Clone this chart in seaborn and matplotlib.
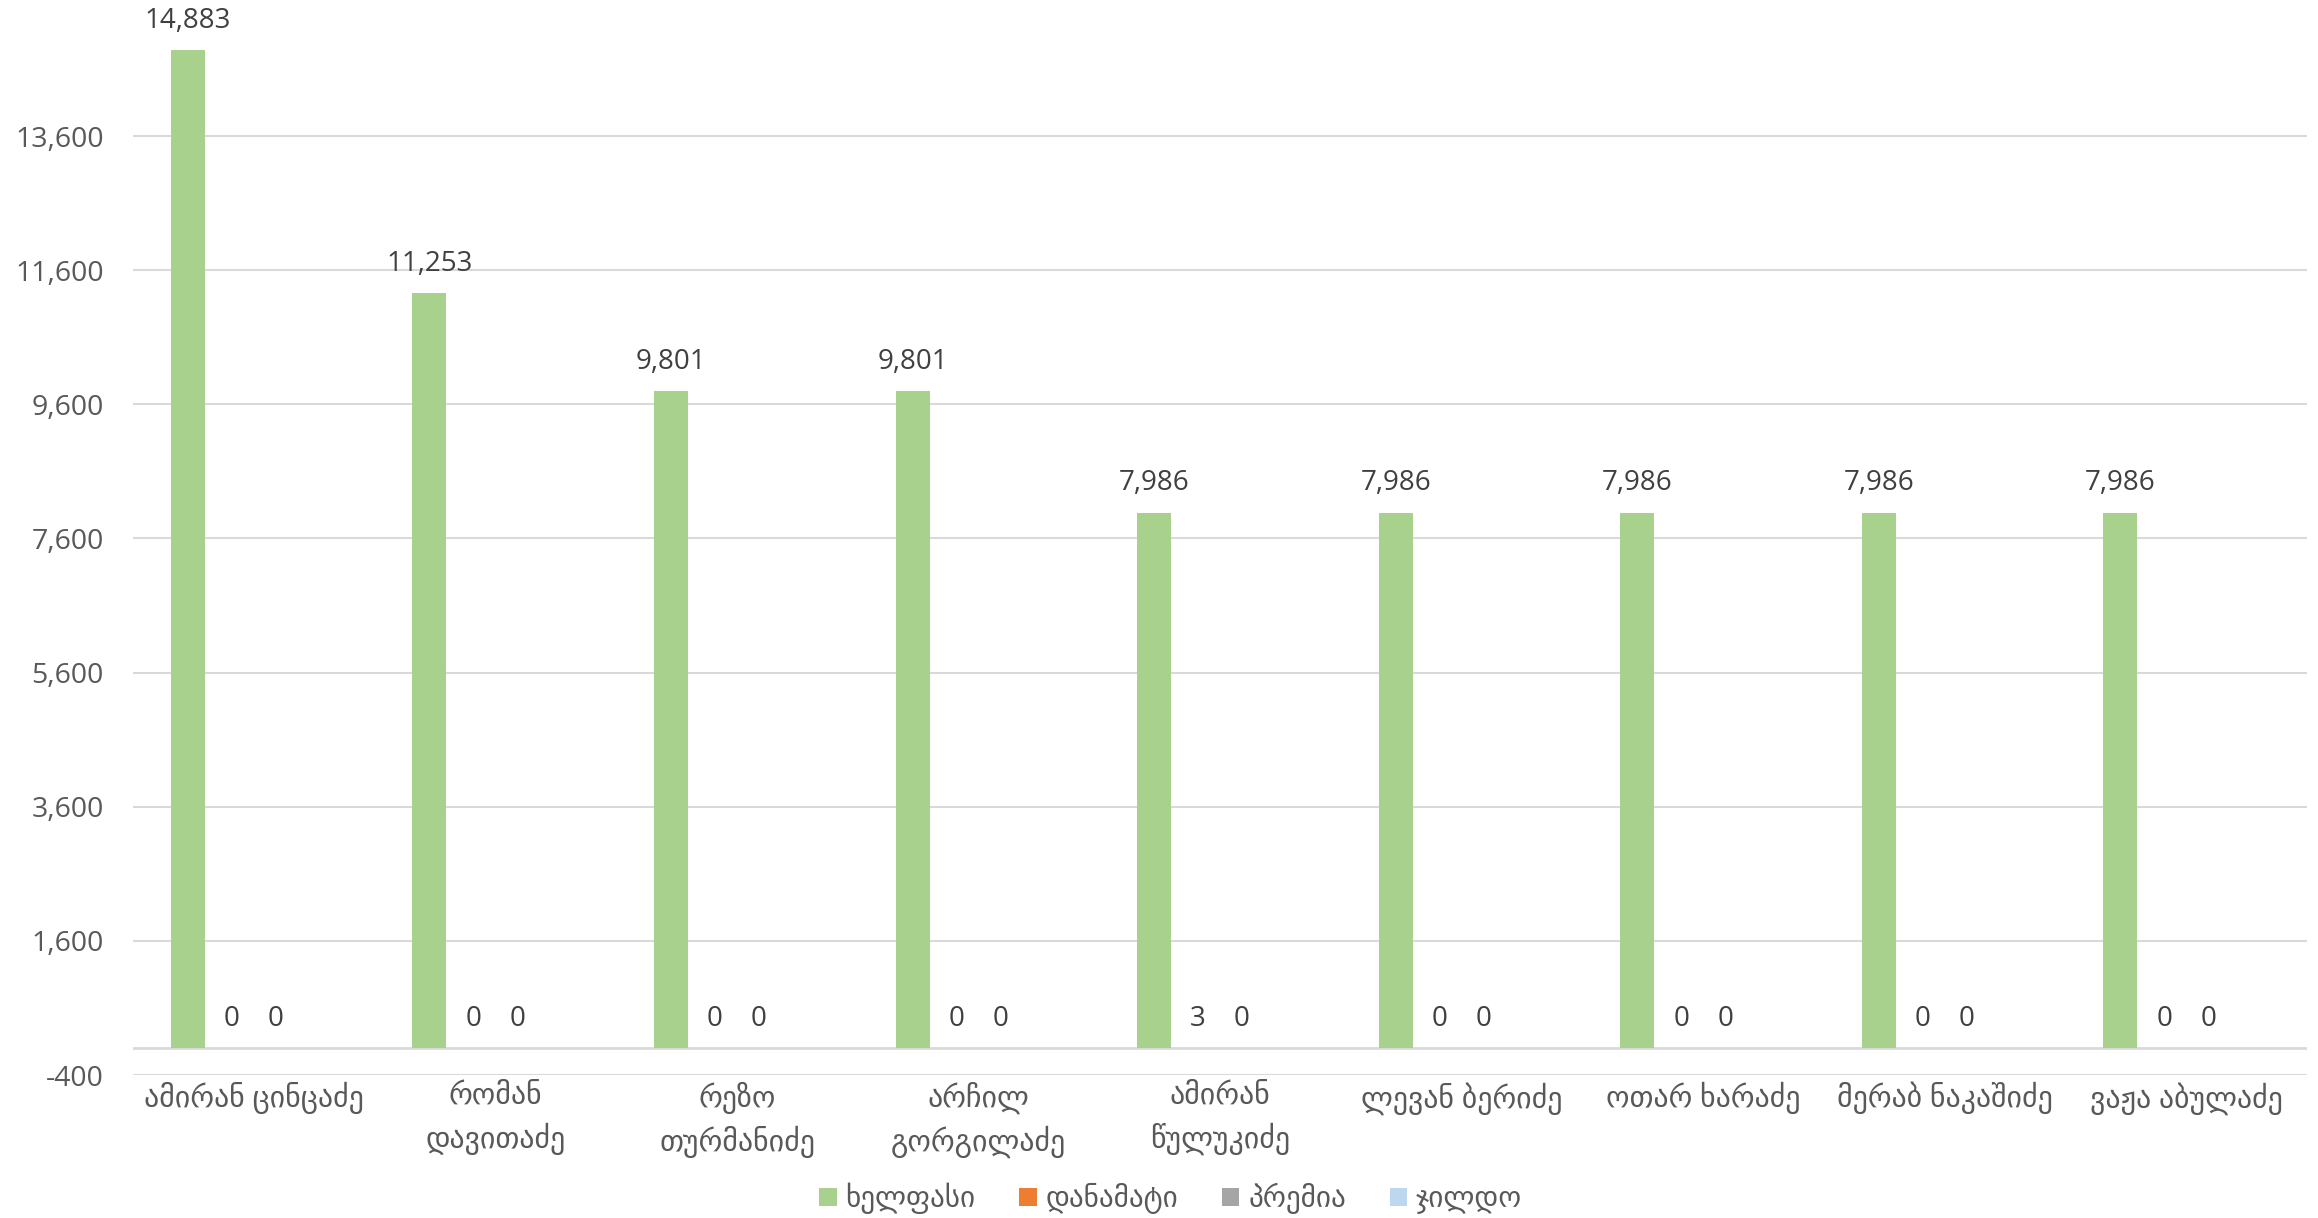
import numpy as np
import pandas as pd
import matplotlib
matplotlib.use('Agg')
import matplotlib.pyplot as plt
import seaborn as sns

# chart data
employees = ['ამირან ცინცაძე', 'რომან\nდავითაძე', 'რეზო\nთურმანიძე', 'არჩილ\nგორგილაძე',
             'ამირან\nწულუკიძე', 'ლევან ბერიძე', 'ოთარ ხარაძე', 'მერაბ ნაკაშიძე', 'ვაჟა აბულაძე']
series_names = ['ხელფასი', 'დანამატი', 'პრემია', 'ჯილდო']
salary = [14883, 11253, 9801, 9801, 7986, 7986, 7986, 7986, 7986]
bonus_add = [0, 0, 0, 0, 3, 0, 0, 0, 0]
premium = [0, 0, 0, 0, 0, 0, 0, 0, 0]
award = [0, 0, 0, 0, 0, 0, 0, 0, 0]
colors = ['#A9D18E', '#ED7D31', '#A5A5A5', '#BDD7EE']

rows = []
for name, vals in zip(series_names, [salary, bonus_add, premium, award]):
    for emp, v in zip(employees, vals):
        rows.append({'employee': emp, 'series': name, 'value': v})
df = pd.DataFrame(rows)

sns.set_style('white')
plt.rcParams['font.family'] = ['Open Sans', 'DejaVu Sans']

fig = plt.figure(figsize=(23.18, 12.18), dpi=100)
ax = fig.add_axes([0.0574, 0.1174, 0.9379, 0.881])

sns.barplot(data=df, x='employee', y='value', hue='series', order=employees,
            hue_order=series_names, palette=colors, width=0.728, gap=0.227,
            saturation=1, ax=ax, errorbar=None, linewidth=0)

ax.set_ylim(-400, 15600)
ax.set_xlim(-0.5, len(employees) - 0.5)
ax.set_yticks(np.arange(-400, 14000, 2000))
ax.set_yticklabels([f'{t:,}' for t in np.arange(-400, 14000, 2000)])
ax.yaxis.grid(True, color='#D9D9D9', linewidth=1.5)
ax.set_axisbelow(True)
ax.axhline(0, color='#D9D9D9', linewidth=2, zorder=0.5)
for s in ax.spines.values():
    s.set_visible(False)
ax.tick_params(axis='y', length=0, pad=21, labelsize=20.5, labelcolor='#595959')
ax.tick_params(axis='x', length=0, pad=5, labelsize=21.5, labelcolor='#595959')
for lbl in ax.get_xticklabels():
    lbl.set_linespacing(1.45)
ax.set_xlabel('')
ax.set_ylabel('')

# data labels on the first three series
for cont in ax.containers[:3]:
    ax.bar_label(cont, fmt='{:,.0f}', padding=11, fontsize=20, color='#404040')

handles, labels = ax.get_legend_handles_labels()
ax.get_legend().remove()
fig.legend(handles, labels, loc='center', bbox_to_anchor=(0.505, 0.016), ncol=4,
           frameon=False, fontsize=21, handlelength=0.6, handleheight=0.6,
           handletextpad=0.3, columnspacing=1.5, labelcolor='#595959')

fig.savefig('out.png', dpi=100)
